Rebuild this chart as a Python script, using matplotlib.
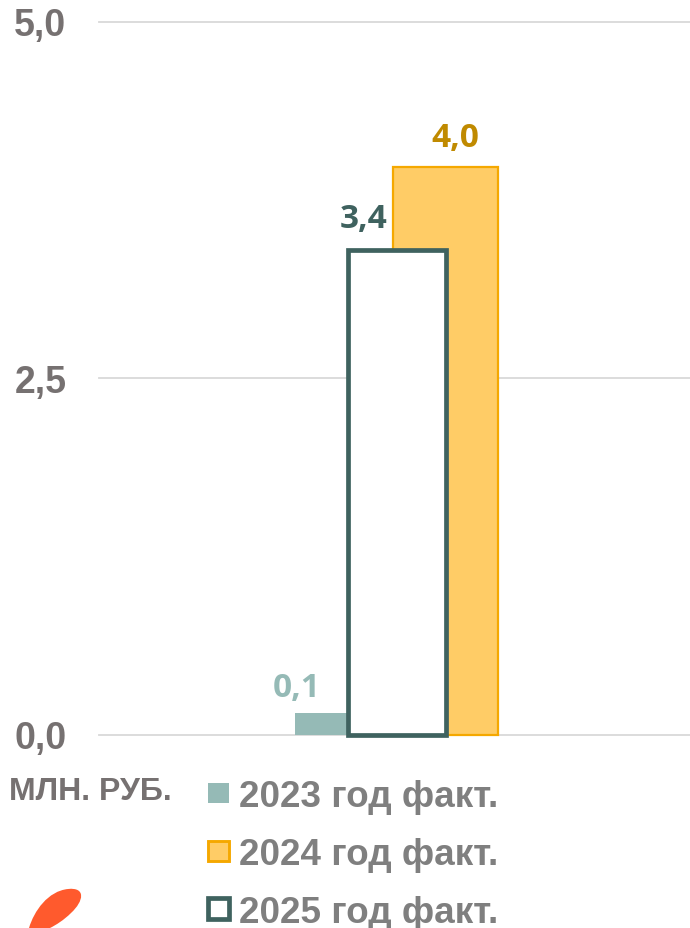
import matplotlib
matplotlib.use("Agg")
import matplotlib.pyplot as plt
from matplotlib.patches import PathPatch, Patch, Rectangle
from matplotlib.path import Path
from matplotlib.legend_handler import HandlerPatch

series = ["2023 год факт.", "2024 год факт.", "2025 год факт."]
values = [0.15, 3.98, 3.4]
value_labels = ["0,1", "4,0", "3,4"]
face_colors = ["#95BAB6", "#FFCC66", "#FFFFFF"]
edge_colors = ["#95BAB6", "#F5A800", "#3F625F"]
line_widths = [0.0, 1.6, 3.4]
label_colors = ["#95BAB6", "#C08A00", "#3F625F"]
offsets = [-0.083, 0.0865, 0.0042]
bar_widths = [0.171, 0.177, 0.166]
draw_order = [1, 2, 3]
y_ticks = [0.0, 2.5, 5.0]
y_tick_labels = ["0,0", "2,5", "5,0"]
unit_label = "МЛН. РУБ."

W, H = 690, 929
fig = plt.figure(figsize=(W / 100, H / 100), dpi=100, facecolor="white")
ax = fig.add_axes([99 / W, 1 - 735.5 / H, (690 - 99) / W, (735.5 - 22.5) / H])
ax.set_xlim(-0.5, 0.5)
ax.set_ylim(0, 5)
ax.patch.set_alpha(0)
for s in ax.spines.values():
    s.set_visible(False)
ax.set_xticks([])
ax.set_yticks(y_ticks)
ax.set_yticklabels(y_tick_labels, fontfamily="Liberation Sans", fontweight="bold",
                   fontsize=27, color="#767171")
ax.tick_params(axis="y", length=0, pad=23.5)
ax.grid(axis="y", color="#D9D9D9", lw=1.3)
ax.set_axisbelow(True)
for gl in ax.get_ygridlines():
    gl.set_clip_on(False)

handles = []
for i, name in enumerate(series):
    ax.bar(offsets[i], values[i], width=bar_widths[i], color=face_colors[i],
           edgecolor=edge_colors[i], linewidth=line_widths[i],
           zorder=draw_order[i] + 1, clip_on=False)
    handles.append(Patch(facecolor=face_colors[i], edgecolor=edge_colors[i],
                         linewidth=line_widths[i] * (1.3 if i == 1 else 1.0), label=name))

lab_x = [297, 455.5, 363.5]
lab_y = [689, 139, 220]
for i in range(3):
    fig.text(lab_x[i] / W, 1 - lab_y[i] / H, value_labels[i], ha="center", va="center",
             fontfamily="Open Sans", fontweight="bold", fontsize=24, color=label_colors[i])

fig.text(9 / W, 1 - 792 / H, unit_label, ha="left", va="center",
         fontfamily="Liberation Sans", fontweight="bold", fontsize=23, color="#767171")


class SquareHandler(HandlerPatch):
    def create_artists(self, legend, orig, xd, yd, w, h, fontsize, trans):
        side = 15
        r = Rectangle((xd + (w - side) / 2 + 1.5, yd + (h - side) / 2), side, side,
                      facecolor=orig.get_facecolor(), edgecolor=orig.get_edgecolor(),
                      linewidth=orig.get_linewidth(), transform=trans)
        return [r]


leg = fig.legend(handles=handles, loc="upper left", bbox_to_anchor=(202 / W, 1 - 780 / H),
                 bbox_transform=fig.transFigure, frameon=False, ncol=1,
                 handler_map={Patch: SquareHandler()},
                 prop={"family": "Liberation Sans", "weight": "bold", "size": 26.6},
                 labelcolor="#7F7F7F", handlelength=0.8, handletextpad=0.2,
                 labelspacing=0.62, borderaxespad=0, borderpad=0)

# decorative orange leaf at the lower left
px = lambda x, y: (x / W, 1 - y / H)
verts = [px(29, 929), px(34, 912), px(48, 892), px(68, 890),
         px(86, 888), px(84, 902), px(71, 914),
         px(64, 921), px(56, 926), px(50, 929),
         px(29, 929)]
codes = [Path.MOVETO, Path.CURVE4, Path.CURVE4, Path.CURVE4,
         Path.CURVE4, Path.CURVE4, Path.CURVE4,
         Path.CURVE4, Path.CURVE4, Path.CURVE4,
         Path.CLOSEPOLY]
fig.add_artist(PathPatch(Path(verts, codes), facecolor="#FF5A2D", edgecolor="none",
                         transform=fig.transFigure))

fig.savefig("out.png", dpi=100)
